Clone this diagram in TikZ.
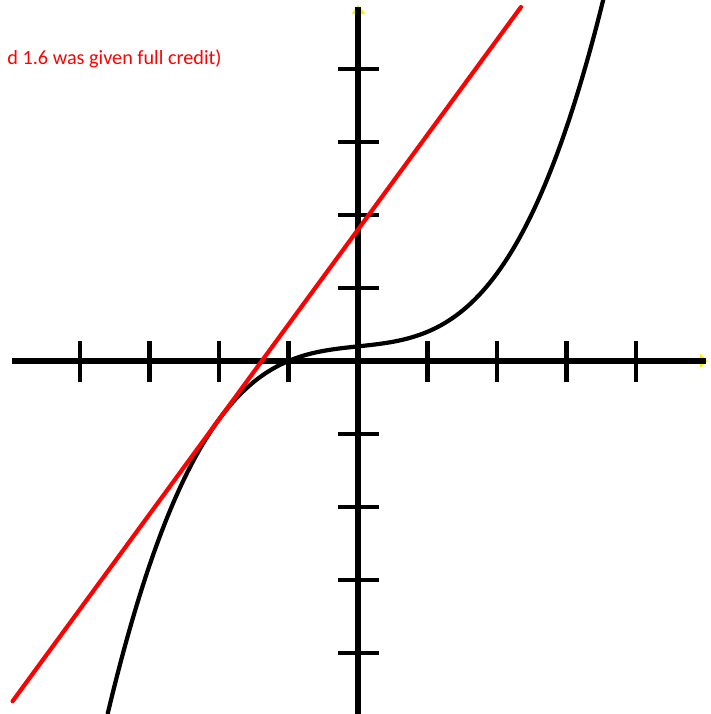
\documentclass[tikz,border=0pt]{standalone}
\usepackage{fontspec}
\setmainfont{Carlito}
\begin{document}
\begin{tikzpicture}[x=34.75pt,y=36.5pt,
  axisline/.style={line width=2.6pt,black},
  tickline/.style={line width=2.3pt,black},
  curveline/.style={line width=2.1pt,black,line cap=round},
  tangentline/.style={line width=2.1pt,red,line cap=round},
  arrowtip/.style={fill=yellow,draw=none},
  note/.style={text=red,font=\fontsize{10.1pt}{12pt}\selectfont,inner sep=0pt}]
\clip (-5.151,-4.836) rectangle (5.079,4.945);
\fill[white] (-5.151,-4.836) rectangle (5.079,4.945);
% yellow arrow tips
\fill[arrowtip] (-0.095,4.75) -- (0,4.875) -- (0.115,4.75) -- cycle;
\fill[arrowtip] (4.92,0.1) -- (5.03,0) -- (4.92,-0.1) -- cycle;
% axes
\coordinate (xl) at (-4.978,0);
\coordinate (xr) at (5.01,0);
\coordinate (yt) at (0,4.85);
\coordinate (yb) at (0,-5.0);
\draw[axisline] (xl) -- (xr);
\draw[axisline] (yb) -- (yt);
% ticks
\foreach \i in {-4,-3,-2,-1,1,2,3,4}{
  \draw[tickline] (\i,-0.29) -- (\i,0.28);
  \draw[tickline] (-0.29,\i) -- (0.3,\i);
}
% curve
\draw[curveline] plot[domain=-3.6:3.53,samples=120,smooth] (\x,{(\x*\x*\x+\x+2)/10});
% tangent line
\coordinate (ta) at (-4.97,{1.3*(-4.97)+1.8});
\coordinate (tb) at (2.345,{1.3*2.345+1.8});
\draw[tangentline] (ta) -- (tb);
% note
\node[note,anchor=base east] (nt) at (-1.957,4.055) {d 1.6 was given full credit)};
\end{tikzpicture}
\end{document}
